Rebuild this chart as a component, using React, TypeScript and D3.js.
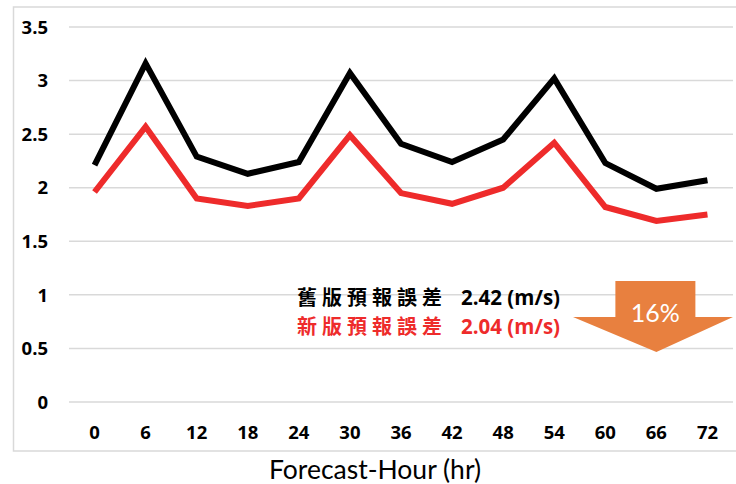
import React from "react";
import * as d3 from "d3";

const hours = ["0", "6", "12", "18", "24", "30", "36", "42", "48", "54", "60", "66", "72"];
const oldError = [2.21, 3.16, 2.29, 2.13, 2.24, 3.07, 2.41, 2.24, 2.45, 3.02, 2.23, 1.99, 2.07];
const newError = [1.96, 2.57, 1.9, 1.83, 1.9, 2.49, 1.95, 1.85, 2.0, 2.42, 1.82, 1.69, 1.75];
const yTicks = [0, 0.5, 1, 1.5, 2, 2.5, 3, 3.5];
const yTickLabels = ["0", "0.5", "1", "1.5", "2", "2.5", "3", "3.5"];
const oldLabel = "舊版預報誤差";
const newLabel = "新版預報誤差";
const oldValueText = "2.42 (m/s)";
const newValueText = "2.04 (m/s)";
const reductionText = "16%";
const xTitle = "Forecast-Hour (hr)";

const W = 736;
const H = 484;

export default function App() {
  const x = d3.scaleBand<string>().domain(hours).range([69, 733]);
  const y = d3.scaleLinear().domain([0, 3.5]).range([402, 27]);
  const cx = (h: string) => (x(h) as number) + x.bandwidth() / 2;
  const line = d3
    .line<number>()
    .x((_, i) => cx(hours[i]))
    .y((d) => y(d));

  const arrowCx = cx("66");
  const arrowPath = [
    [arrowCx - 41, 281],
    [arrowCx + 39, 281],
    [arrowCx + 39, 317],
    [733, 317],
    [arrowCx, 352],
    [573, 317],
    [arrowCx - 41, 317],
  ];

  const tickFont = "'Open Sans', 'Noto Sans', sans-serif";
  const titleFont = "Lato, 'Open Sans', sans-serif";
  const cjkFont = "'Noto Sans CJK TC', 'Noto Sans CJK SC', sans-serif";

  return (
    <svg
      width={W}
      height={H}
      style={{ position: "absolute", left: 0, top: 0, background: "#fff" }}
    >
      <rect x={0} y={0} width={W} height={H} fill="#fff" />
      {/* frame */}
      <path d={`M${W + 2},7 H13.5 V451 H${W + 2}`} fill="none" stroke="#d9d9d9" strokeWidth={1.5} />
      {/* gridlines */}
      {yTicks.map((t) => (
        <line key={t} x1={69} x2={733} y1={y(t)} y2={y(t)} stroke="#d9d9d9" strokeWidth={1.5} />
      ))}
      {/* y tick labels */}
      {yTicks.map((t, i) => (
        <text
          key={"yl" + t}
          x={48}
          y={y(t)}
          dy="0.36em"
          textAnchor="end"
          fontFamily={tickFont}
          fontWeight={700}
          fontSize={18.5}
          fill="#000"
        >
          {yTickLabels[i]}
        </text>
      ))}
      {/* x tick labels */}
      {hours.map((h) => (
        <text
          key={"xl" + h}
          x={cx(h)}
          y={432}
          dy="0.36em"
          textAnchor="middle"
          fontFamily={tickFont}
          fontWeight={700}
          fontSize={18.5}
          fill="#000"
        >
          {h}
        </text>
      ))}
      {/* x title */}
      <text
        x={375}
        y={469}
        dy="0.36em"
        textAnchor="middle"
        fontFamily={titleFont}
        fontSize={26.5}
        fill="#000"
      >
        {xTitle}
      </text>
      {/* lines */}
      <path d={line(oldError) || ""} fill="none" stroke="#000" strokeWidth={6} strokeLinejoin="miter" />
      <path d={line(newError) || ""} fill="none" stroke="#ee2b2b" strokeWidth={6} strokeLinejoin="miter" />
      {/* arrow */}
      <path d={"M" + arrowPath.map((p) => p.join(",")).join("L") + "Z"} fill="#e8803f" />
      <text
        x={arrowCx - 1}
        y={313}
        dy="0.36em"
        textAnchor="middle"
        fontFamily={titleFont}
        fontSize={25}
        fill="#fff"
      >
        {reductionText}
      </text>
      {/* annotation */}
      <text x={297} y={298} dy="0.35em" fontFamily={cjkFont} fontWeight={700} fontSize={20} letterSpacing={5} fill="#000">
        {oldLabel}
      </text>
      <text x={461} y={298} dy="0.36em" fontFamily={tickFont} fontWeight={700} fontSize={20.5} fill="#000">
        {oldValueText}
      </text>
      <text x={297} y={327} dy="0.35em" fontFamily={cjkFont} fontWeight={700} fontSize={20} letterSpacing={5} fill="#ee2b2b">
        {newLabel}
      </text>
      <text x={461} y={327} dy="0.36em" fontFamily={tickFont} fontWeight={700} fontSize={20.5} fill="#ee2b2b">
        {newValueText}
      </text>
    </svg>
  );
}
